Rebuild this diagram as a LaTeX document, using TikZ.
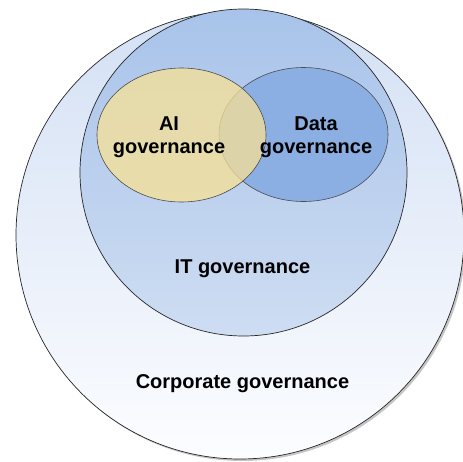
\documentclass[tikz,border=0pt]{standalone}
\usepackage{fontspec}
\setmainfont{Liberation Sans}
\usepackage{xcolor}
\usetikzlibrary{shapes.geometric,shadows}

\definecolor{corptop}{HTML}{D3E0F4}
\definecolor{corpbot}{HTML}{FCFDFF}
\definecolor{ittop}{HTML}{A8C3EA}
\definecolor{itbot}{HTML}{CEDDF2}
\definecolor{datafill}{HTML}{8BAFE2}
\definecolor{aifill}{HTML}{F8E195}

\begin{document}
\begin{tikzpicture}[x=1pt,y=-1pt,
    ring/.style = {shape=circle, draw=black!85, line width=0.7pt, inner sep=0pt},
    blob/.style = {shape=ellipse, draw=black!70, line width=0.6pt, inner sep=0pt,
      minimum width=169pt, minimum height=134pt},
    lbl/.style = {align=center, font=\fontsize{20}{23}\selectfont\bfseries}]
    \useasboundingbox (0,0) rectangle (463,461);
    \node[ring, minimum size=448pt, top color=corptop, bottom color=corpbot,
      drop shadow={shadow xshift=2pt, shadow yshift=-2pt, fill=black!45}] (corp) at (240,235) {};
    \node[ring, minimum size=327pt, top color=ittop, bottom color=itbot] (it) at (243.5,172.5) {};
    \node[blob, fill=datafill] (data) at (303.5,134.5) {};
    \node[blob, fill=aifill, fill opacity=0.75] (ai) at (181.5,135) {};
    \node[lbl] (ailbl) at (169,137) {AI\\governance};
    \node[lbl] (datalbl) at (316,137) {Data\\governance};
    \node[lbl] (itlbl) at (242.5,269) {IT governance};
    \node[lbl] (corplbl) at (242.5,384) {Corporate governance};
  \end{tikzpicture}
\end{document}
